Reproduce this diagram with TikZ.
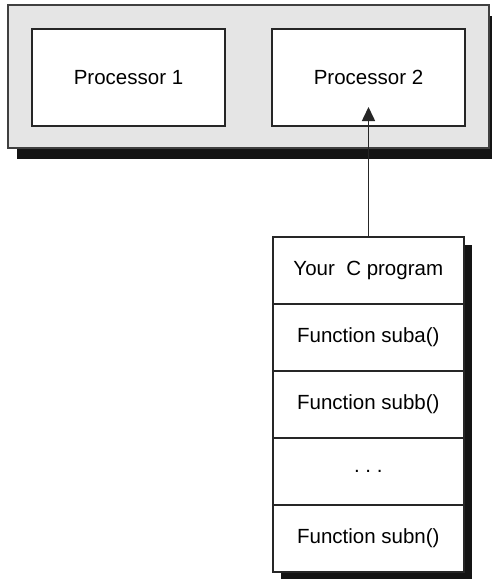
\documentclass[tikz,border=0pt]{standalone}
\usepackage{fontspec}
\setmainfont{Liberation Sans}
\usepackage{tikz}
\usetikzlibrary{positioning, arrows.meta, calc, backgrounds, shadows}

\begin{document}
\begin{tikzpicture}[x=1pt, y=-1pt,
    every node/.style={font=\fontsize{20.5}{24}\selectfont, inner sep=0pt, outer sep=0pt},
    cpu/.style={draw=black!85, line width=1.6pt, fill=white, minimum width=193pt, minimum height=97pt},
    frame/.style={draw=black!75, line width=1.6pt, fill=black!10, minimum width=481pt, minimum height=143pt,
        drop shadow={fill=black!92, opacity=1, shadow xshift=9pt, shadow yshift=-11pt}},
    layer/.style={draw=black!85, line width=1.6pt, fill=white, minimum width=191pt, minimum height=67pt}]
    \useasboundingbox (0,0) rectangle (492,582);
    % the machine with its two processors
    \node[frame] (board) at (248.5,76.5) {};
    \node[cpu] (proc1) at (128.5,77.5) {Processor 1};
    \node[cpu] (proc2) at (368.5,77.5) {Processor 2};
    % the program and its functions
    \node[layer] (prog) at (368.3,270.5) {Your\ \ C program};
    \node[layer, below=0pt of prog] (suba) {Function suba()};
    \node[layer, below=0pt of suba] (subb) {Function subb()};
    \node[layer, below=0pt of subb] (dots) {.\ .\ .};
    \node[layer, below=0pt of dots] (subn) {Function subn()};
    \begin{scope}[on background layer]
        \fill[black!92] ($(prog.north west)+(8,8)$) rectangle ($(subn.south east)+(8,7)$);
    \end{scope}
    \coordinate (tip) at ([yshift=-29.5pt]proc2.center);
    \draw[line width=1.6pt, black!85, -{Triangle[width=13pt, length=14pt]}] (prog.north -| tip) -- (tip);
\end{tikzpicture}
\end{document}
